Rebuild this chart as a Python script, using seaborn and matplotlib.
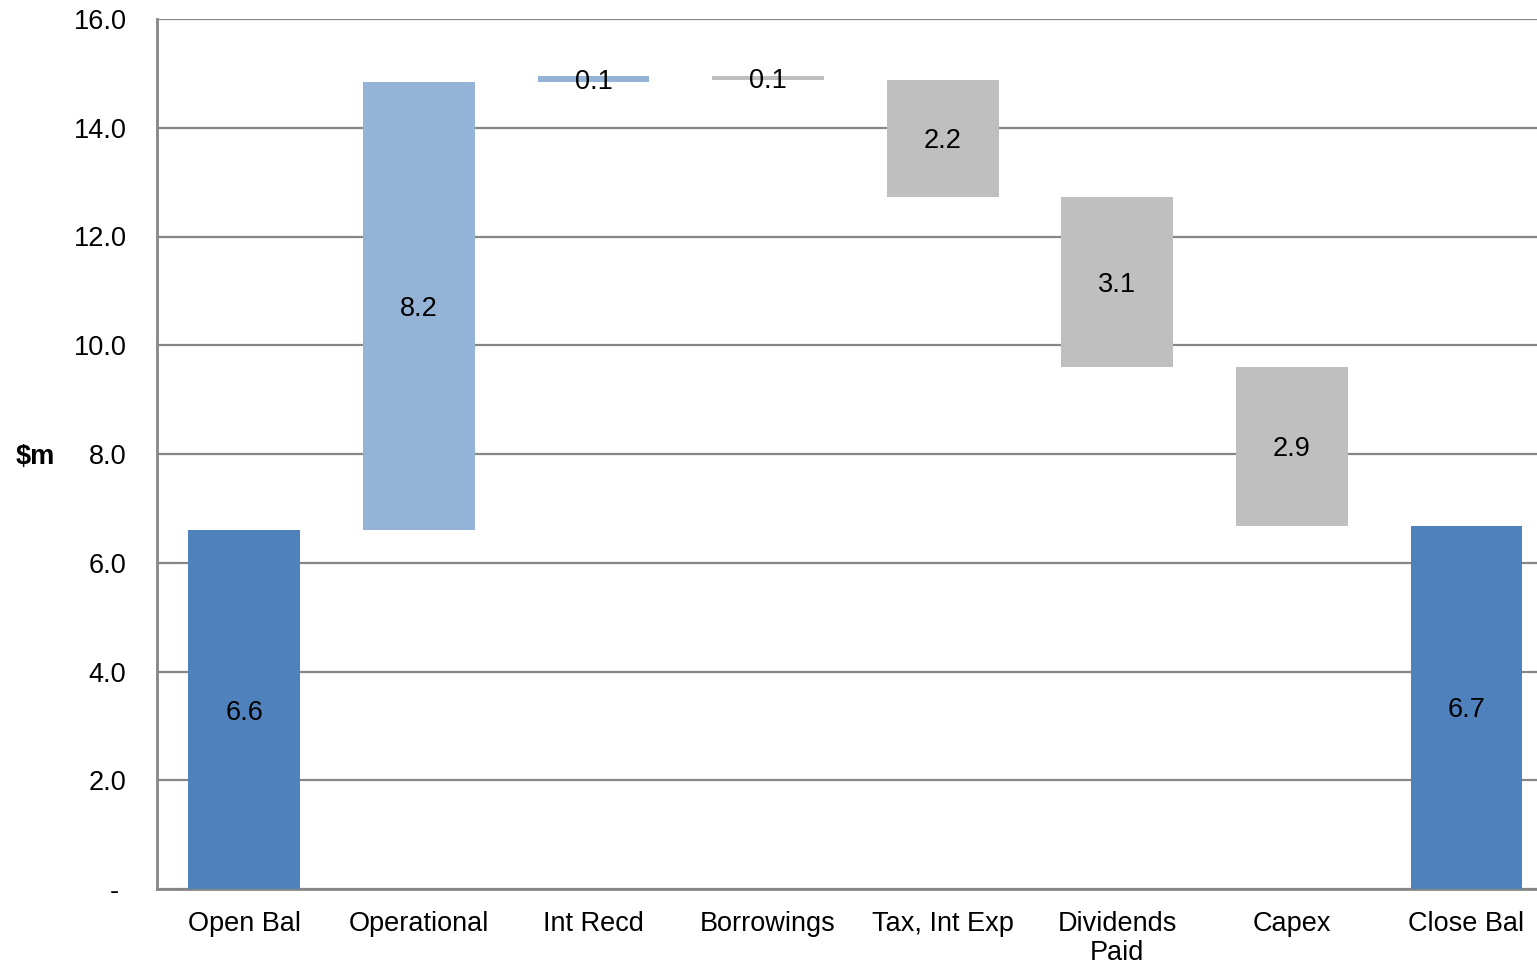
import numpy as np
import pandas as pd
import seaborn as sns
import matplotlib.pyplot as plt
from matplotlib.ticker import FuncFormatter

# waterfall data ($m)
categories = ["Open Bal", "Operational", "Int Recd", "Borrowings",
              "Tax, Int Exp", "Dividends\nPaid", "Capex", "Close Bal"]
bases = [0.0, 6.60, 14.84, 14.88, 12.73, 9.60, 6.68, 0.0]
heights = [6.60, 8.24, 0.11, 0.07, 2.15, 3.13, 2.92, 6.68]
kinds = ["total", "up", "up", "down", "down", "down", "down", "total"]
bar_labels = ["6.6", "8.2", "0.1", "0.1", "2.2", "3.1", "2.9", "6.7"]

colours = {"total": "#4F81BD", "up": "#95B3D7", "down": "#BFBFBF"}

df = pd.DataFrame({"cat": categories, "base": bases, "h": heights,
                   "kind": kinds, "label": bar_labels})

sns.set_style("white")
plt.rcParams['font.family'] = ['Liberation Sans', 'DejaVu Sans']
plt.rcParams['text.color'] = 'black'
plt.rcParams['xtick.color'] = 'black'
plt.rcParams['ytick.color'] = 'black'
plt.rcParams['axes.labelcolor'] = 'black'

fs = 19.5

fig = plt.figure(figsize=(15.37, 9.66), dpi=100)
ax = fig.add_axes([157 / 1537, 77 / 966, 1396.8 / 1537, 870 / 966])

for kind, sub in df.groupby("kind", sort=False):
    sns.barplot(x=sub["cat"], y=sub["h"], bottom=sub["base"].values,
                order=categories, color=colours[kind], saturation=1,
                width=0.64, linewidth=0, ax=ax, zorder=3)

# labels in middle of each bar
for i, row in df.iterrows():
    ax.text(i, row["base"] + row["h"] / 2, row["label"], ha="center",
            va="center_baseline", fontsize=fs, color="black", zorder=5)

ax.set_ylim(0, 16)
ax.set_xlim(-0.5, 7.5)
ax.set_yticks(np.arange(0, 17, 2))
ax.yaxis.set_major_formatter(FuncFormatter(lambda v, p: "- " if v == 0 else f"{v:.1f}"))
ax.grid(axis="y", color="#868686", linewidth=1.6, zorder=0)
ax.set_axisbelow(True)

for s in ["top", "right"]:
    ax.spines[s].set_visible(False)
for s in ["left", "bottom"]:
    ax.spines[s].set_color("#868686")
    ax.spines[s].set_linewidth(2)

ax.tick_params(axis="y", length=0, pad=22, labelsize=fs)
ax.tick_params(axis="x", length=0, pad=16, labelsize=fs)
for t in ax.get_xticklabels():
    t.set_linespacing(1.15)

ax.set_xlabel("")
ax.set_ylabel("$m", rotation=0, fontsize=fs, fontweight="bold", ha="center", va="center_baseline")
ax.yaxis.set_label_coords(-0.0873, 0.5)

fig.savefig("out.png", dpi=100)
